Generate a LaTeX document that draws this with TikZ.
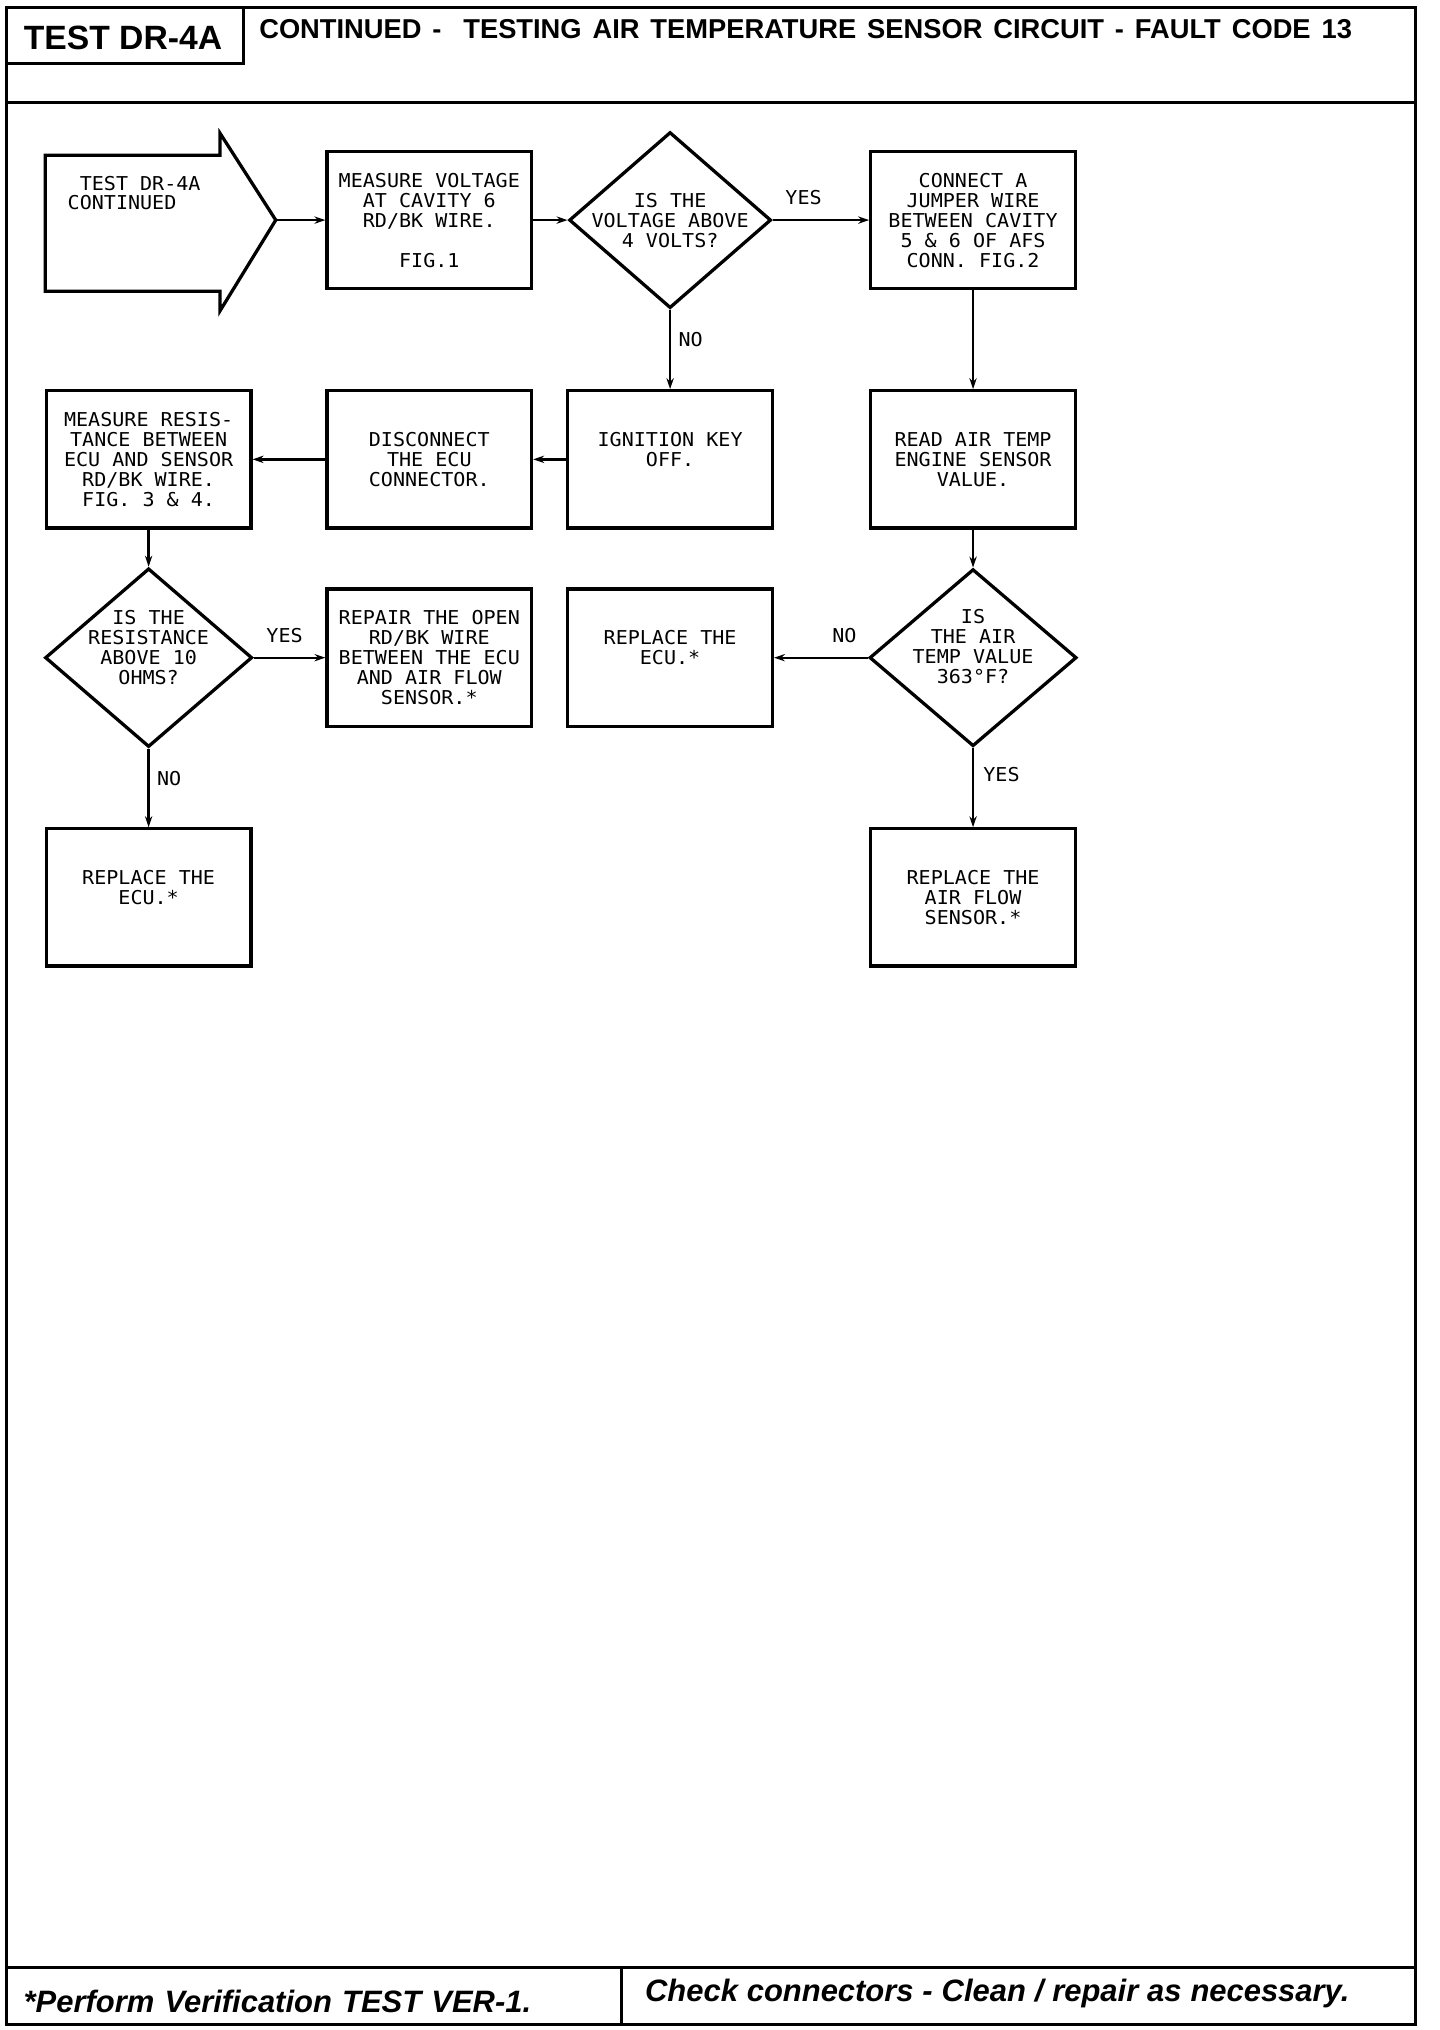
\documentclass[tikz,border=0pt]{standalone}
\usepackage{fontspec}
\usetikzlibrary{shapes.geometric,arrows.meta}
\newfontfamily\plotfont[FakeStretch=1.05]{DejaVu Sans Mono}
\newfontfamily\headfont{Liberation Sans}

\begin{document}
\begin{tikzpicture}[
  every node/.style={font=\plotfont\fontsize{10.5}{11}\selectfont},
  stepbox/.style={draw,line width=1.8pt,minimum width=3.95cm,minimum height=2.65cm,align=center,inner sep=0pt},
  decision/.style={draw,diamond,line width=1.8pt,inner sep=0pt,minimum width=4.0cm,minimum height=3.42cm},
  dtext/.style={align=center,inner sep=0pt},
  flow/.style={-{Stealth[length=6pt,width=4pt]},line width=1.3pt},
  lbl/.style={inner sep=1pt}
]
\useasboundingbox (0,0) rectangle (27.8,-39.2);

% page frame, header and footer
\draw[line width=1.6pt] (0.125,-0.15) rectangle (27.33,-39.1);
\draw[line width=1.6pt] (4.7,-0.15) -- (4.7,-1.22) -- (0.125,-1.22);
\draw[line width=1.6pt] (0.125,-1.975) -- (27.33,-1.975);
\draw[line width=1.6pt] (0.125,-38.0) -- (27.33,-38.0);
\draw[line width=1.3pt] (12.0,-38.0) -- (12.0,-39.1);
\node[font=\headfont\bfseries\fontsize{18.5}{19}\selectfont,inner sep=0pt] (testid) at (2.375,-0.74) {TEST DR-4A};
\node[font=\headfont\bfseries\fontsize{15}{16}\selectfont,anchor=west,inner sep=0pt] (title) at (5.0,-0.56)
  {\makebox[21.1cm][s]{CONTINUED -\ \ TESTING AIR TEMPERATURE SENSOR CIRCUIT - FAULT CODE 13}};
\node[font=\headfont\bfseries\itshape\fontsize{17}{18}\selectfont,anchor=west,inner sep=0pt] (verify) at (0.45,-38.65)
  {\makebox[9.8cm][s]{*Perform Verification TEST VER-1.}};
\node[font=\headfont\bfseries\itshape\fontsize{17}{18}\selectfont,anchor=west,inner sep=0pt] (check) at (12.45,-38.5)
  {\makebox[13.6cm][s]{Check connectors - Clean / repair as necessary.}};

% entry arrow
\draw[line width=1.8pt] (0.875,-3.0) -- (4.25,-3.0) -- (4.25,-2.575) -- (5.325,-4.25)
  -- (4.25,-6.0) -- (4.25,-5.625) -- (0.875,-5.625) -- cycle;
\coordinate (tip) at (5.325,-4.25);
\node[anchor=north west,align=left,inner sep=0pt,font=\plotfont\fontsize{10.5}{10.5}\selectfont] (start) at (1.3,-3.4) {\ TEST DR-4A\\CONTINUED};

% row 1
\node[stepbox] (measV) at (8.29,-4.25) {MEASURE VOLTAGE\\AT CAVITY 6\\RD/BK WIRE.\\[11pt]FIG.1};
\node[decision,minimum width=3.9cm,minimum height=3.4cm,label={[dtext]center:{IS THE\\VOLTAGE ABOVE\\4 VOLTS?}}] (volt) at (12.94,-4.25) {};
\node[stepbox] (jumper) at (18.79,-4.25) {CONNECT A\\JUMPER WIRE\\BETWEEN CAVITY\\5 \& 6 OF AFS\\CONN. FIG.2};

% row 2
\node[stepbox] (ign) at (12.94,-8.87) {IGNITION KEY\\OFF.\\\mbox{}};
\node[stepbox] (disc) at (8.29,-8.87) {DISCONNECT\\THE ECU\\CONNECTOR.};
\node[stepbox] (measR) at (2.87,-8.87) {MEASURE RESIS-\\TANCE BETWEEN\\ECU AND SENSOR\\RD/BK WIRE.\\FIG. 3 \& 4.};
\node[stepbox] (read) at (18.79,-8.87) {READ AIR TEMP\\ENGINE SENSOR\\VALUE.};

% row 3
\node[decision,minimum height=3.45cm,label={[dtext,yshift=0.2cm]center:{IS THE\\RESISTANCE\\ABOVE 10\\OHMS?}}] (resist) at (2.87,-12.7) {};
\node[stepbox] (repair) at (8.29,-12.7) {REPAIR THE OPEN\\RD/BK WIRE\\BETWEEN THE ECU\\AND AIR FLOW\\SENSOR.*};
\node[stepbox] (replECUa) at (12.94,-12.7) {REPLACE THE\\ECU.*\\\mbox{}};
\node[decision,label={[dtext,yshift=0.22cm]center:{IS\\THE AIR\\TEMP VALUE\\363°F?}}] (tempq) at (18.79,-12.7) {};

% row 4
\node[stepbox] (replECUb) at (2.87,-17.33) {REPLACE THE\\ECU.*\\\mbox{}};
\node[stepbox] (replAFS) at (18.79,-17.33) {REPLACE THE\\AIR FLOW\\SENSOR.*};

% connectors
\draw[flow] (tip) -- (measV);
\draw[flow] (measV) -- (volt);
\draw[flow] (volt) -- node[lbl,above=6.5pt,pos=.32] {YES} (jumper);
\draw[flow] (volt) -- node[lbl,right=3pt,pos=.37] {NO} (ign);
\draw[flow] (jumper) -- (read);
\draw[flow] (ign) -- (disc);
\draw[flow] (disc) -- (measR);
\draw[flow] (measR) -- (resist);
\draw[flow] (resist) -- node[lbl,above=6.5pt,pos=.43] {YES} (repair);
\draw[flow] (resist) -- node[lbl,right=3pt,pos=.375] {NO} (replECUb);
\draw[flow] (read) -- (tempq);
\draw[flow] (tempq) -- node[lbl,above=6.5pt,pos=.25] {NO} (replECUa);
\draw[flow] (tempq) -- node[lbl,right=4pt,pos=.34] {YES} (replAFS);
\end{tikzpicture}
\end{document}
